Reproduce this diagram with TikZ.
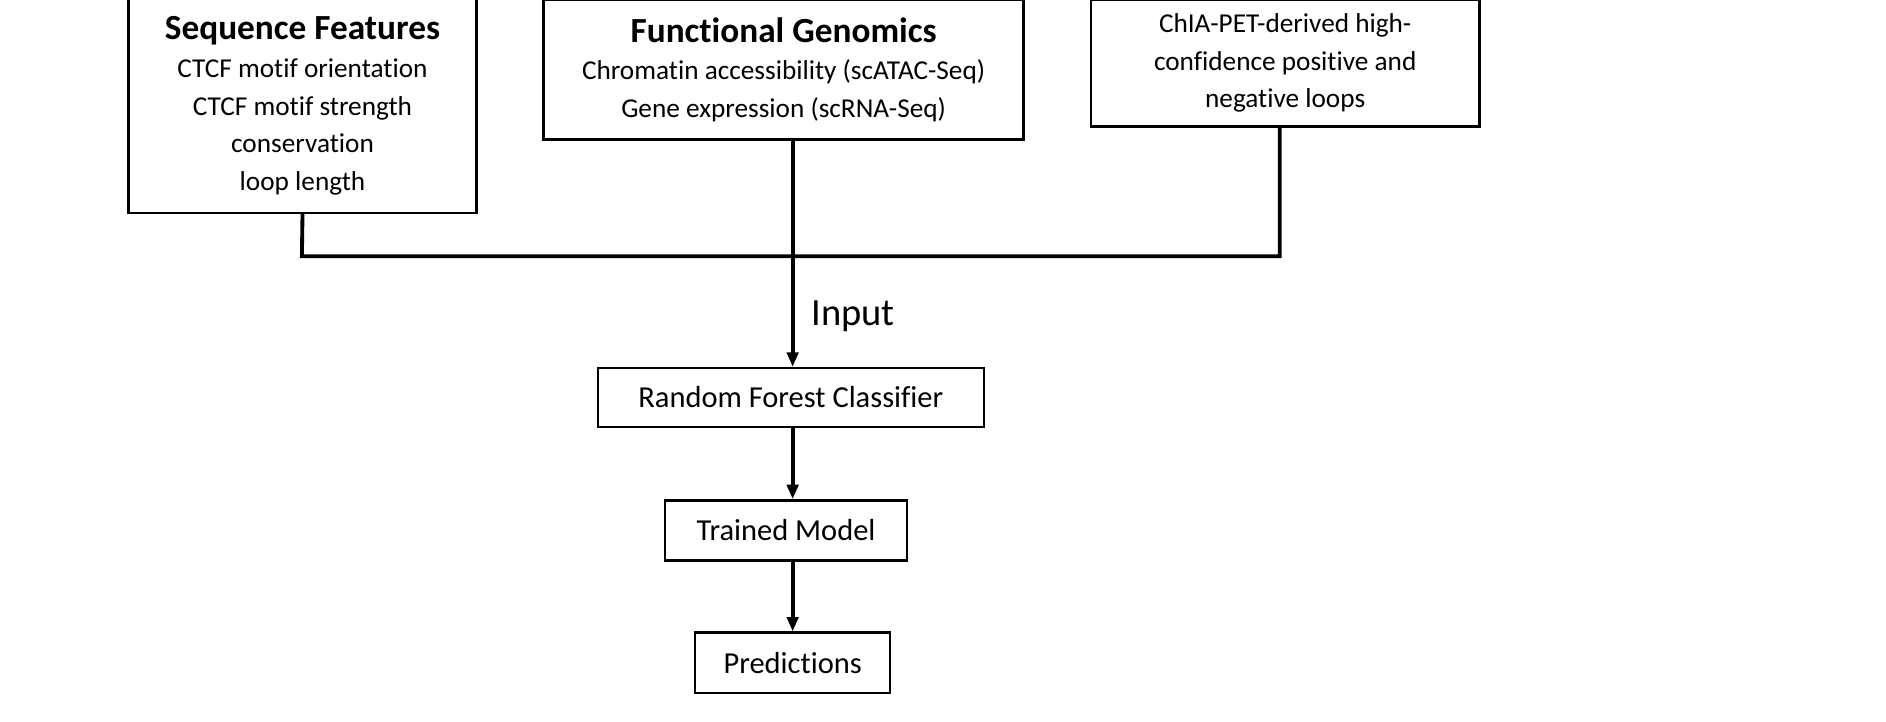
\documentclass[tikz,border=0pt]{standalone}
\usepackage{fontspec}
\setmainfont{Carlito}[Ligatures=NoCommon]
\usetikzlibrary{arrows.meta}
\begin{document}
\begin{tikzpicture}[x=0.75pt,y=-0.75pt,
  box/.style={draw,line width=1.5pt,inner sep=0pt,align=center},
  body/.style={font=\fontsize{17}{23.5}\selectfont},
  conn/.style={line width=2.4pt},
  arr/.style={conn,-{Triangle[length=9pt,width=7pt]}}]
\newcommand{\ttlfont}{\fontsize{22}{25}\selectfont\bfseries}
\useasboundingbox (0,0) rectangle (1568,600);
\node[box,body,minimum width=289*0.75pt,minimum height=178*0.75pt] (b1) at (251.5,88)
  {{\ttlfont Sequence Features}\\CTCF motif orientation\\CTCF motif strength\\conservation\\loop length};
\node[box,body,minimum width=399*0.75pt,minimum height=116*0.75pt] (b2) at (651.5,58)
  {{\ttlfont Functional Genomics}\\Chromatin accessibility (scATAC-Seq)\\Gene expression (scRNA-Seq)};
\node[box,body,minimum width=323*0.75pt,minimum height=105*0.75pt] (b3) at (1068.5,52.5)
  {ChIA-PET-derived high-\\confidence positive and\\negative loops};
\node[box,font=\fontsize{19}{22}\selectfont,minimum width=321*0.75pt,minimum height=49*0.75pt] (b4) at (657.5,330.5) {Random Forest Classifier};
\node[box,font=\fontsize{19}{22}\selectfont,minimum width=201*0.75pt,minimum height=50*0.75pt] (b5) at (653.5,441) {Trained Model};
\node[box,font=\fontsize{19}{22}\selectfont,minimum width=162*0.75pt,minimum height=50*0.75pt] (b6) at (659,551) {Predictions};
\coordinate (jL) at (251,213);
\coordinate (jR) at (1064,213);
\draw[conn] (b1.south) -- (jL) -- (jR) -- (b3.south -| jR);
\draw[arr] (b2.south -| 659,0) -- (b4.north -| 659,0);
\node[font=\fontsize{24}{26}\selectfont,anchor=west] (inp) at (670,263) {Input};
\draw[arr] (b4.south -| 659,0) -- (b5.north -| 659,0);
\draw[arr] (b5.south -| 659,0) -- (b6.north -| 659,0);
\end{tikzpicture}
\end{document}
